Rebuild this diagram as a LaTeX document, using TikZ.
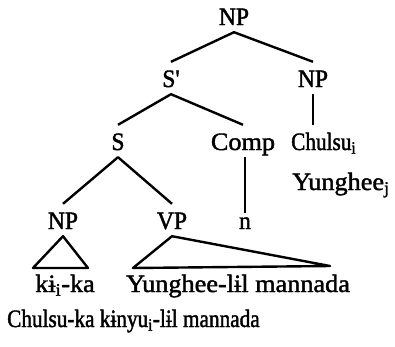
\documentclass[tikz,border=0pt]{standalone}
\usepackage{fontspec}
\setmainfont{Liberation Serif}
\newfontfamily\catfont[FakeStretch=0.94,FakeBold=1.6]{Liberation Serif}
\newfontfamily\widefont[FakeStretch=1.05,FakeBold=1.6]{Liberation Serif}
\newfontfamily\narrowfont[FakeStretch=0.85,FakeBold=1.6]{Liberation Serif}
\begin{document}
\begin{tikzpicture}[x=1pt,y=-1pt,line width=2.4pt,line join=round,
  cat/.style={anchor=base,inner sep=1pt,text height=23pt,text depth=5pt,font=\catfont\fontsize{25}{30}\selectfont},
  leaf/.style={anchor=base,inner sep=0pt,font=\catfont\fontsize{25}{30}\selectfont},
  wide/.style={font=\widefont\fontsize{25}{30}\selectfont},
  narrow/.style={font=\narrowfont\fontsize{25}{30}\selectfont}]
\useasboundingbox (0,0) rectangle (395,346);
\node[cat](np) at (234,25){NP};
\node[cat](sbar) at (171,87){S'};
\node[cat](npr) at (313,87){NP};
\node[cat](s) at (118,150){S};
\node[cat,wide](comp) at (243,150){Comp};
\node[cat,narrow,anchor=base west](chulsu) at (289,150){Chulsu\textsubscript{i}};
\node[leaf,wide,anchor=base west](yunghee) at (291,190){Yunghee\textsubscript{j}};
\node[cat](npl) at (63,229){NP};
\node[cat](vp) at (172,229){VP};
\node[cat,text height=14pt](n) at (245,229){n};
\node[leaf,wide](kika) at (65,292){kɨ\textsubscript{i}-ka};
\node[leaf,wide](yl) at (238,292){Yunghee-lɨl mannada};
\node[leaf,narrow,anchor=base west](gloss) at (6,327){Chulsu-ka kɨnyu\textsubscript{i}-lɨl mannada};
\coordinate(A) at (33,268);
\coordinate(B) at (88,268);
\coordinate(C) at (133,268);
\coordinate(D) at (330,266);
\draw(sbar.north) -- (np.south) -- (npr.north);
\draw(npr.south) -- (npr.south |- chulsu.north);
\draw(s.north) -- (sbar.south) -- (comp.north);
\draw(npl.north) -- (s.south) -- (vp.north);
\draw(comp.south -| n.north) -- (n.north);
\draw(npl.south) -- (A) -- (B) -- cycle;
\draw(vp.south) -- (C) -- (D) -- cycle;
\end{tikzpicture}
\end{document}
